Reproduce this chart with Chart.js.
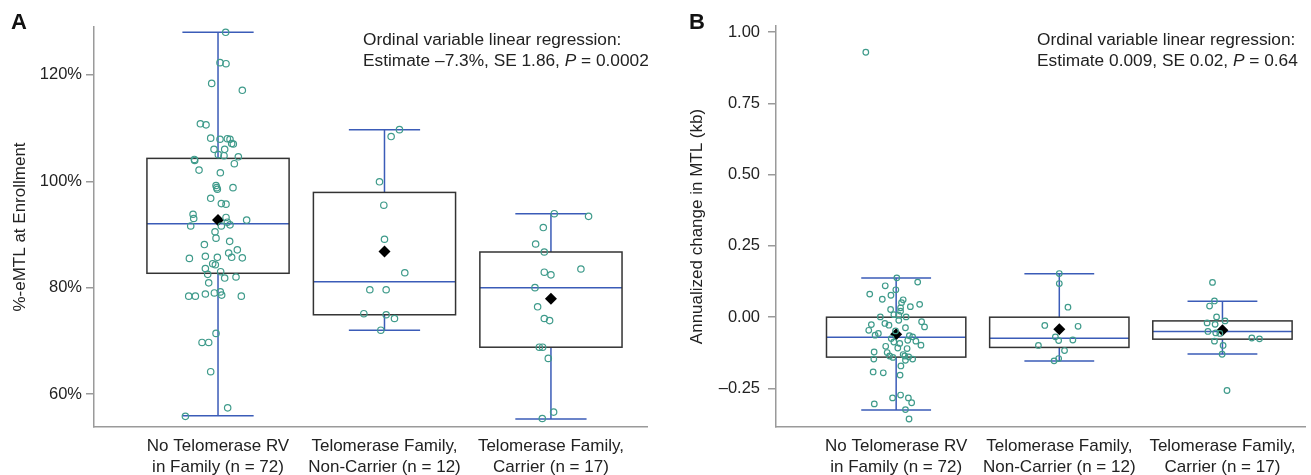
<!DOCTYPE html>
<html>
<head>
<meta charset="utf-8">
<script src="https://cdn.jsdelivr.net/npm/chart.js@4.4.0/dist/chart.umd.min.js"></script>
<style>
  body { margin: 0; background: #fff; }
  #wrap { position: relative; width: 1311px; height: 475px; }
  #chartA { position: absolute; left: 0; top: 0; }
  #chartB { position: absolute; left: 660px; top: 0; }
</style>
</head>
<body>
<div id="wrap">
  <canvas id="chartA" width="660" height="475"></canvas>
  <canvas id="chartB" width="651" height="475"></canvas>
</div>
<script>
const groupLabels = [
  ["No Telomerase RV", "in Family (n = 72)"],
  ["Telomerase Family,", "Non-Carrier (n = 12)"],
  ["Telomerase Family,", "Carrier (n = 17)"]
];

// ---- panel A: %-eMTL at enrollment ----
const aTicks = [60, 80, 100, 120];
const aLow = [55.9, 72.0, 55.3];
const aQ1 = [82.7, 74.9, 68.8];
const aMedian = [92.0, 81.1, 80.0];
const aQ3 = [104.3, 97.9, 86.7];
const aHigh = [128.0, 109.7, 93.9];
const aMean = [92.7, 86.8, 77.9];

const aNoRv = [128.0,122.3,122.1,118.4,117.1,110.8,110.6,108.1,107.9,108.0,
  107.9,107.1,107.0,106.0,106.0,105.0,104.8,104.6,104.1,103.9,
  103.3,102.1,101.6,99.2,98.8,98.5,98.8,96.8,95.8,95.7,
  93.8,93.0,93.2,92.7,91.6,91.6,92.3,91.8,90.5,89.3,
  88.7,88.1,87.1,86.5,85.5,85.9,85.7,85.7,85.6,84.5,
  84.3,83.6,83.0,82.5,81.8,82.0,80.9,78.4,78.4,78.8,
  79.0,79.2,78.6,78.4,71.4,69.7,69.7,64.2,57.4,55.8];
const aNoRvJit = [0.046,0.012,0.048,-0.038,0.146,-0.106,-0.072,-0.044,0.012,0.056,
  0.072,0.082,0.092,-0.024,0.040,0.002,0.036,0.122,-0.142,-0.140,
  0.098,-0.114,0.014,-0.012,-0.008,-0.004,0.090,-0.044,0.020,0.048,
  -0.150,-0.146,0.048,0.172,-0.164,0.020,0.056,0.072,-0.018,-0.012,
  0.070,-0.082,0.116,0.064,-0.172,-0.076,-0.004,0.082,0.146,-0.032,
  -0.016,-0.076,0.016,-0.062,0.040,0.108,-0.056,-0.176,-0.136,-0.076,
  -0.022,0.014,0.022,0.140,-0.012,-0.096,-0.056,-0.044,0.058,-0.196];
const aNonCarrier = [109.7,108.4,99.9,95.5,89.1,82.8,79.6,79.6,75.1,74.9,74.2,72.0];
const aNonCarrierJit = [0.09,0.04,-0.03,-0.004,0,0.122,-0.088,0.01,-0.124,0.01,0.06,-0.022];
const aCarrier = [93.9,93.4,91.3,88.2,86.7,83.5,82.9,82.4,80.0,76.4,74.2,73.8,68.8,68.8,66.7,56.6,55.4];
const aCarrierJit = [0.02,0.226,-0.046,-0.092,-0.04,0.18,-0.04,0,-0.096,-0.08,-0.04,-0.008,-0.07,-0.05,-0.016,0.016,-0.052];

// ---- panel B: annualized change in MTL ----
const bTicks = [-0.25, 0, 0.25, 0.5, 0.75, 1.0];
const bLow = [-0.325, -0.154, -0.129];
const bQ1 = [-0.140, -0.106, -0.077];
const bMedian = [-0.070, -0.074, -0.050];
const bQ3 = [0.000, 0.000, -0.013];
const bHigh = [0.137, 0.152, 0.056];
const bMean = [-0.060, -0.042, -0.046];

const bNoRv = [0.929,
  0.138,0.123,0.110,0.096,0.081,0.077,0.063,0.061,0.051,0.045,
  0.037,0.033,0.027,0.021,0.009,0.007,0.001,0.001,-0.011,-0.016,
  -0.022,-0.026,-0.028,-0.034,-0.037,-0.046,-0.048,-0.063,-0.057,-0.065,
  -0.069,-0.075,-0.081,-0.084,-0.087,-0.092,-0.098,-0.102,-0.108,-0.110,
  -0.122,-0.124,-0.131,-0.136,-0.141,-0.136,-0.139,-0.147,-0.147,-0.151,
  -0.171,-0.192,-0.195,-0.203,-0.273,-0.283,-0.283,-0.300,-0.304,-0.324,
  -0.357];
const bNoRvJit = [-0.186,
  0.004,0.132,-0.067,-0.002,-0.162,-0.032,-0.085,0.043,0.033,0.144,
  0.087,0.027,-0.034,0.027,-0.014,0.016,-0.097,0.061,0.016,0.156,
  -0.069,-0.152,-0.044,0.174,0.057,-0.168,-0.004,-0.129,-0.109,0.081,
  0.101,-0.030,0.071,0.121,-0.014,0.022,0.152,-0.064,0.010,0.067,
  -0.135,-0.055,0.043,-0.040,-0.020,0.053,0.077,0.101,-0.137,0.057,
  0.029,-0.141,-0.079,0.024,0.027,-0.022,0.075,0.095,-0.134,0.057,
  0.079];
const bNonCarrier = [0.153,0.118,0.035,-0.029,-0.032,-0.069,-0.082,-0.080,-0.099,-0.117,-0.145,-0.153];
const bNonCarrierJit = [0,0,0.053,-0.089,0.115,-0.024,-0.004,0.083,-0.128,0.032,-0.004,-0.032];
const bCarrier = [0.122,0.057,0.039,0.001,-0.013,-0.020,-0.025,-0.050,-0.055,-0.057,-0.073,-0.076,-0.084,-0.099,-0.130,-0.257];
const bCarrierJit = [-0.061,-0.049,-0.079,-0.036,0.016,-0.094,-0.045,-0.089,-0.041,-0.016,0.180,0.227,-0.049,0.004,-0.002,0.028];

const FONT = "'Liberation Sans', Arial, Helvetica, sans-serif";
const TEAL = '#3f9b8b';
const BLUE = '#3b5cb8';
const AXIS = '#9a9a9a';
const TEXT = '#222';

function toPoints(vals, jit, i) {
  return vals.map((v, k) => ({ x: i + jit[k], y: v }));
}

// boxes, whiskers, panel letter and regression note
function makeBoxPlugin(stats, letter, note) {
  return {
    id: 'boxes' + letter,
    beforeDatasetsDraw(chart) {
      const { ctx, scales: { x, y } } = chart;
      ctx.save();
      ctx.lineWidth = 1.5;
      for (let i = 0; i < 3; i++) {
        const l = x.getPixelForValue(i - 0.427), r = x.getPixelForValue(i + 0.427);
        const cl = x.getPixelForValue(i - 0.214), cr = x.getPixelForValue(i + 0.214);
        const cx = x.getPixelForValue(i);
        const lo = y.getPixelForValue(stats.low[i]), hi = y.getPixelForValue(stats.high[i]);
        const q1 = y.getPixelForValue(stats.q1[i]), q3 = y.getPixelForValue(stats.q3[i]);
        const med = y.getPixelForValue(stats.median[i]);
        ctx.strokeStyle = BLUE;
        ctx.beginPath();
        ctx.moveTo(cx, q3); ctx.lineTo(cx, hi);
        ctx.moveTo(cl, hi); ctx.lineTo(cr, hi);
        ctx.moveTo(cx, q1); ctx.lineTo(cx, lo);
        ctx.moveTo(cl, lo); ctx.lineTo(cr, lo);
        ctx.moveTo(l, med); ctx.lineTo(r, med);
        ctx.stroke();
        ctx.strokeStyle = '#333';
        ctx.strokeRect(l, q3, r - l, q1 - q3);
      }
      ctx.restore();
    },
    afterDraw(chart) {
      const { ctx } = chart;
      ctx.save();
      ctx.fillStyle = '#111';
      ctx.font = 'bold 22px ' + FONT;
      ctx.textBaseline = 'middle';
      ctx.fillText(letter, note.letterX, 23);
      ctx.fillStyle = TEXT;
      ctx.font = '17.3px ' + FONT;
      ctx.fillText('Ordinal variable linear regression:', note.x, 40);
      let px = note.x;
      ctx.fillText(note.pre, px, 61);
      px += ctx.measureText(note.pre).width;
      ctx.font = 'italic 17.3px ' + FONT;
      ctx.fillText('P', px, 61);
      px += ctx.measureText('P').width;
      ctx.font = '17.3px ' + FONT;
      ctx.fillText(note.post, px, 61);
      ctx.restore();
    }
  };
}

function makeChart(id, cfg) {
  const datasets = cfg.groups.map((g, i) => ({
    data: toPoints(g.vals, g.jit, i),
    pointStyle: 'circle',
    pointRadius: cfg.r,
    pointBorderWidth: 1.2,
    pointBorderColor: TEAL,
    pointBackgroundColor: 'rgba(0,0,0,0)'
  }));
  datasets.push({
    data: cfg.mean.map((v, i) => ({ x: i, y: v })),
    pointStyle: 'rectRot',
    pointRadius: 6,
    pointBorderWidth: 0,
    pointBackgroundColor: '#000',
    pointBorderColor: '#000'
  });

  return new Chart(document.getElementById(id), {
    type: 'scatter',
    data: { datasets },
    options: {
      responsive: false,
      animation: false,
      devicePixelRatio: 1,
      layout: { padding: { top: cfg.top, right: cfg.right, left: 0, bottom: 0 } },
      plugins: { legend: { display: false }, tooltip: { enabled: false } },
      scales: {
        x: {
          type: 'linear', min: cfg.xMin, max: cfg.xMax,
          afterFit(s) { s.height = 475 - cfg.bottom; },
          afterBuildTicks(s) { s.ticks = [0, 1, 2].map(v => ({ value: v })); },
          ticks: {
            callback: v => groupLabels[v],
            color: TEXT, padding: 1, maxRotation: 0, autoSkip: false,
            font: { family: FONT, size: 17, lineHeight: 1.22 }
          },
          grid: { display: false },
          border: { display: true, color: AXIS, width: 1.5 }
        },
        y: {
          type: 'linear', min: cfg.yMin, max: cfg.yMax,
          afterFit(s) { s.width = cfg.left; },
          afterBuildTicks(s) { s.ticks = cfg.ticks.map(v => ({ value: v })); },
          ticks: {
            callback: cfg.fmt, color: TEXT, padding: cfg.tickPad,
            font: { family: FONT, size: 16.5 }
          },
          grid: { drawOnChartArea: false, drawTicks: true, tickLength: 8, color: AXIS, lineWidth: 1.5 },
          border: { display: true, color: AXIS, width: 1.5 },
          title: {
            display: true, text: cfg.title, color: TEXT,
            font: { family: FONT, size: 17 }, padding: { top: cfg.titlePad, bottom: 0 }
          }
        }
      }
    },
    plugins: [makeBoxPlugin(cfg.stats, cfg.letter, cfg.note)]
  });
}

makeChart('chartA', {
  letter: 'A',
  groups: [
    { vals: aNoRv, jit: aNoRvJit },
    { vals: aNonCarrier, jit: aNonCarrierJit },
    { vals: aCarrier, jit: aCarrierJit }
  ],
  mean: aMean,
  stats: { low: aLow, q1: aQ1, median: aMedian, q3: aQ3, high: aHigh },
  r: 3.2,
  top: 27, bottom: 427, left: 94, right: 13,
  xMin: -0.745, xMax: 2.577,
  yMin: 53.8, yMax: 129.0,
  ticks: aTicks,
  fmt: v => v + '%',
  tickPad: 4,
  title: '%-eMTL at Enrollment',
  titlePad: 10,
  note: { x: 363, letterX: 11, pre: 'Estimate \u20137.3%, SE 1.86, ', post: ' = 0.0002' }
});

makeChart('chartB', {
  letter: 'B',
  groups: [
    { vals: bNoRv, jit: bNoRvJit },
    { vals: bNonCarrier, jit: bNonCarrierJit },
    { vals: bCarrier, jit: bCarrierJit }
  ],
  mean: bMean,
  stats: { low: bLow, q1: bQ1, median: bMedian, q3: bQ3, high: bHigh },
  r: 2.8,
  top: 26, bottom: 427, left: 116, right: 1,
  xMin: -0.7365, xMax: 2.506,
  yMin: -0.385, yMax: 1.021,
  ticks: bTicks,
  fmt: v => (v < 0 ? '\u2013' : '') + Math.abs(v).toFixed(2),
  tickPad: 8,
  title: 'Annualized change in MTL (kb)',
  titlePad: 27,
  note: { x: 377, letterX: 29, pre: 'Estimate 0.009, SE 0.02, ', post: ' = 0.64' }
});
</script>
</body>
</html>
